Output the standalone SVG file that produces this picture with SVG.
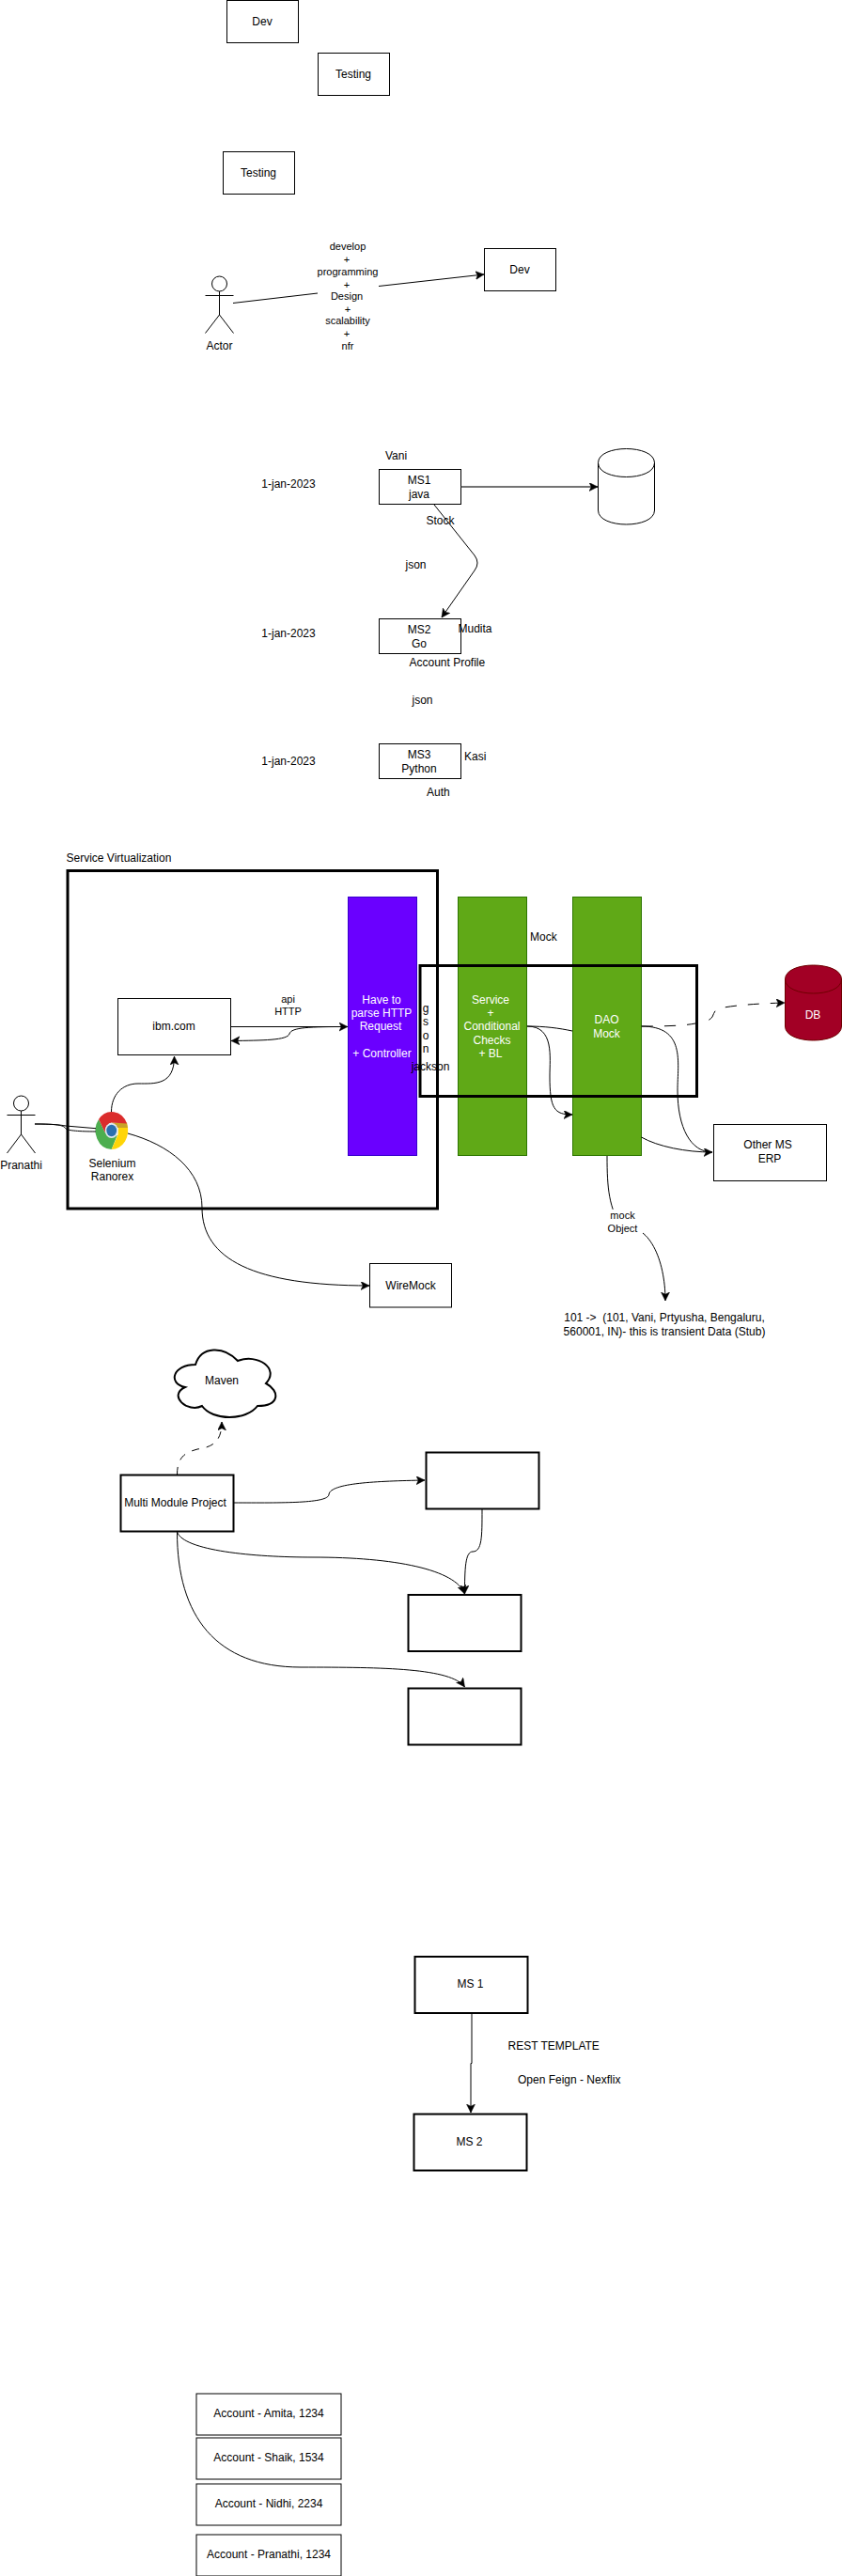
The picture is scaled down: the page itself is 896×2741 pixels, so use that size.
<svg xmlns="http://www.w3.org/2000/svg" width="896" height="2741" viewBox="0 0 896 2741">
<style>
text{font-family:"Liberation Sans",Arial,sans-serif;font-size:12px;fill:#000;text-anchor:middle;white-space:pre}
.l{text-anchor:start}
.s{font-size:11px}
.w{fill:#fff}
.b{fill:#fff;stroke:#000;stroke-width:1}
.b2{fill:#fff;stroke:#000;stroke-width:2}
.b1{fill:none;stroke:#000;stroke-width:3}
.c{fill:none;stroke:#000;stroke-width:1}
</style>
<defs>
<marker id="a" markerUnits="userSpaceOnUse" markerWidth="12" markerHeight="10" refX="9" refY="4.5" orient="auto"><path d="M0 0L9 4.5L0 9L2.2 4.5Z" fill="#000" stroke="#000" stroke-width=".5"/></marker>
</defs>
<rect width="896" height="2741" fill="#fff"/>
<g id="dev1"><rect class="b" x="241.5" y="0.5" width="76" height="45"/><text x="279" y="27">Dev</text></g>
<g id="testing1"><rect class="b" x="338.5" y="56.5" width="76" height="45"/><text x="376" y="83">Testing</text></g>
<g id="testing2"><rect class="b" x="237.5" y="161.5" width="76" height="45"/><text x="275" y="188">Testing</text></g>
<g id="dev2"><rect class="b" x="515.5" y="264.5" width="76" height="45"/><text x="553" y="291">Dev</text></g>
<g id="actor"><circle class="c" cx="233.5" cy="302" r="8"/><path class="c" d="M233.5 310V335M218.5 314.5H248.5M233.5 335L218.5 354.5M233.5 335L248.5 354.5"/><text x="233.5" y="372">Actor</text></g>
<g id="mslabel"><text class="s" x="370" y="266">develop</text><text class="s" x="369" y="280">+</text><text class="s" x="370" y="293">programming</text><text class="s" x="369" y="307">+</text><text class="s" x="369" y="319">Design</text><text class="s" x="370" y="333">+</text><text class="s" x="370" y="345">scalability</text><text class="s" x="369" y="359">+</text><text class="s" x="370" y="372">nfr</text></g>

<g id="ms1"><rect class="b" x="403.5" y="499.5" width="87" height="37"/><text x="446" y="515">MS1</text><text x="446" y="530">java</text></g>
<g id="store1"><path class="b" d="M636.5 492.5C636.5 472.5 696.5 472.5 696.5 492.5V543C696.5 563 636.5 563 636.5 543Z"/><path class="c" d="M636.5 492.5C636.5 512.5 696.5 512.5 696.5 492.5"/></g>
<g id="ms2"><rect class="b" x="403.5" y="658.5" width="87" height="37"/><text x="446" y="674">MS2</text><text x="446" y="689">Go</text></g>
<g id="ms3"><rect class="b" x="403.5" y="791.5" width="87" height="37"/><text x="446" y="807">MS3</text><text x="446" y="822">Python</text></g>
<g id="mslabels">
<text x="307" y="519">1-jan-2023</text><text x="307" y="678">1-jan-2023</text><text x="307" y="814">1-jan-2023</text>
<text class="l" x="410" y="489">Vani</text><text class="l" x="453.5" y="558">Stock</text><text class="l" x="431.5" y="605">json</text>
<text class="l" x="487.5" y="673">Mudita</text><text class="l" x="435.5" y="709">Account Profile</text><text class="l" x="438.5" y="749">json</text>
<text class="l" x="494" y="809">Kasi</text><text class="l" x="454" y="847">Auth</text>
</g>

<g id="controller"><rect x="370.5" y="954.5" width="73" height="275" fill="#6a00ff" stroke="#3700cc"/><text class="w" x="406" y="1068">Have to</text><text class="w" x="406" y="1082">parse HTTP</text><text class="w" x="405" y="1096">Request</text><text class="w" x="406.5" y="1125">+ Controller</text></g>
<g id="service"><rect x="487.5" y="954.5" width="73" height="275" fill="#60a917" stroke="#2d7600"/><text class="w" x="522" y="1068">Service</text><text class="w" x="522" y="1082">+</text><text class="w" x="523.5" y="1096">Conditional</text><text class="w" x="523.5" y="1111">Checks</text><text class="w" x="522" y="1125">+ BL</text></g>
<g id="dao"><rect x="609.5" y="954.5" width="73" height="275" fill="#60a917" stroke="#2d7600"/><text class="w" x="645.5" y="1089">DAO</text><text class="w" x="645.5" y="1104">Mock</text></g>
<g id="frames"><rect class="b1" x="72" y="926.5" width="393.5" height="359.5"/><rect class="b1" x="447" y="1027.5" width="294.5" height="139"/></g>
<g id="ibm"><rect class="b" x="125.5" y="1062.5" width="120" height="60"/><text x="185" y="1096">ibm.com</text></g>
<g id="wiremock"><rect class="b" x="393.5" y="1344.5" width="87" height="46.5"/><text x="437" y="1372">WireMock</text></g>
<g id="other"><rect class="b" x="759.5" y="1196.5" width="120" height="60"/><text x="817" y="1222">Other MS</text><text x="819" y="1237">ERP</text></g>
<g id="db"><path d="M835.5 1042C835.5 1022 895.5 1022 895.5 1042V1092C895.5 1112 835.5 1112 835.5 1092Z" fill="#a20025" stroke="#6f0000"/><path d="M835.5 1042C835.5 1062 895.5 1062 895.5 1042" fill="none" stroke="#6f0000"/><text class="w" x="865" y="1084">DB</text></g>
<g id="pranathi"><circle class="c" cx="22.5" cy="1174" r="8"/><path class="c" d="M22.5 1182V1207M7.5 1186.5H37.5M22.5 1207L7.5 1227M22.5 1207L37.5 1227"/><text x="22.5" y="1244">Pranathi</text></g>
<g id="chrome" transform="translate(118.7 1203) scale(.87 1)">
<path fill="#4cae4f" d="M-15.7-12A20 20 0 0 0 0 20L7 5L-8 2Z"/>
<path fill="#ffd507" d="M18.8-7A20 20 0 0 1 0 20L8 4L8-8Z"/>
<path fill="#c9a227" d="M0-8.500H18.800L19.800-3H6Z"/>
<path fill="#db2c2c" d="M-15.700-12A20 20 0 0 1 18.800-7.500L0-8.500Q-6-8-8 2Z"/>
<circle r="8" fill="#dfe6ee"/><circle r="6.200" fill="#2a6fae"/></g>
<g id="chromelabel"><text x="119.5" y="1242">Selenium</text><text x="119.5" y="1256">Ranorex</text></g>

<g id="connectors">
<path class="c" d="M248 322.5L338 312"/><path class="c" marker-end="url(#a)" d="M403 304.5L515 292"/>
<path fill="none" stroke="#444" stroke-width="1.5" marker-end="url(#a)" d="M490.5 518H636"/>
<path class="c" marker-end="url(#a)" d="M462 537L505 591Q511 599 505 607L470 657"/>
<path class="c" d="M118.5 1183C118.5 1165 130 1153 147 1153C165 1153 185.5 1155 185.5 1124" marker-end="url(#a)"/>
<path class="c" d="M245.5 1092.5H370" marker-end="url(#a)"/>
<path class="c" d="M370 1092.5C330 1092.5 310 1093 308 1100C306 1107 280 1107 246 1107.5" marker-end="url(#a)"/>
<path class="c" d="M136 1206C180 1218 215 1245 215 1285C215 1340 270 1368 393 1368" marker-end="url(#a)"/>
<path class="c" d="M37 1196C55 1196 65 1197 70 1198L102 1200.7"/>
<path class="c" d="M37 1196C60 1196 68 1197 70 1201C72 1203 85 1204 102 1204"/>
<path class="c" d="M561 1092C580 1092 595 1094 609 1097"/>
<path class="c" d="M561 1092C590 1092 585 1125 585 1145C585 1180 590 1186 609 1186" marker-end="url(#a)"/>
<path class="c" stroke-dasharray="12 12" d="M683 1092C700 1092 725 1092 740 1089C750 1088 755 1086 758 1082C760 1078 760 1075 765 1073C780 1070 800 1068 835 1067" marker-end="url(#a)"/>
<path class="c" d="M682.5 1092C730 1092 721 1130 721 1160C721 1200 735 1226 758 1226" marker-end="url(#a)"/>
<path class="c" d="M682.5 1210C700 1220 730 1226 758 1226"/>
<path class="c" d="M646 1230C646 1265 648 1285 662 1307C690 1300 708 1340 708 1384" marker-end="url(#a)"/>
<path class="c" stroke-dasharray="8 8" d="M188.5 1569C188.5 1548 200 1545 210 1542C225 1540 236 1535 236 1513" marker-end="url(#a)"/>
<path class="c" d="M248.5 1599C300 1599 350 1600 350 1590C352 1578 400 1576 452 1575" marker-end="url(#a)"/>
<path class="c" d="M513 1606C513 1635 513 1651 503 1651C495 1651 494.5 1670 494.5 1696" marker-end="url(#a)"/>
<path class="c" d="M188.5 1630C195 1650 270 1657 333 1657C420 1657 485 1670 494.5 1696" marker-end="url(#a)"/>
<path class="c" d="M188.5 1630C188.5 1720 230 1774 320 1774C410 1774 480 1775 494.5 1795" marker-end="url(#a)"/>
<path class="c" d="M502 2143V2195.5H501V2248" marker-end="url(#a)"/>
</g>
<g id="labels">
<text class="l" x="70.5" y="917">Service Virtualization</text>
<text class="s" x="306.5" y="1066.5">api</text><text class="s" x="306.5" y="1080">HTTP</text>
<text x="453" y="1077">g</text><text x="453" y="1091">s</text><text x="453" y="1106">o</text><text x="453" y="1120">n</text><text x="458" y="1139">jackson</text>
<text class="l" x="564" y="1001">Mock</text>
<rect x="644" y="1287" width="40" height="28" fill="#fff"/>
<text class="s" x="662.5" y="1297">mock</text><text class="s" x="662.5" y="1311">Object</text>
<text x="707" y="1406">101 -&gt;  (101, Vani, Prtyusha, Bengaluru,</text><text x="707" y="1421">560001, IN)- this is transient Data (Stub)</text>
</g>

<g id="maven"><path class="b2" d="M208 1452C184 1452 178 1472 197 1476C178 1485 200 1504 215 1496C226 1512 262 1512 274 1496C298 1496 298 1480 283 1472C298 1456 274 1440 253 1448C238 1432 214 1432 208 1452Z"/><text x="236" y="1473">Maven</text></g>
<g id="multi"><rect class="b2" x="128.5" y="1569.5" width="120" height="60"/><text x="186.5" y="1603">Multi Module Project</text></g>
<g id="mod1"><rect class="b2" x="453.5" y="1545.5" width="120" height="60"/></g>
<g id="mod2"><rect class="b2" x="434.5" y="1697" width="120" height="60"/></g>
<g id="mod3"><rect class="b2" x="434.5" y="1796.5" width="120" height="60"/></g>

<g id="ms1b"><rect class="b2" x="441.5" y="2082" width="120" height="60"/><text x="500.5" y="2115">MS 1</text></g>
<g id="ms2b"><rect class="b2" x="440.5" y="2249.5" width="120" height="60"/><text x="499.5" y="2283">MS 2</text></g>
<text class="l" x="540.5" y="2181">REST TEMPLATE</text>
<text class="l" x="551" y="2217">Open Feign - Nexflix</text>
<g id="acc1"><rect class="b" x="209" y="2547" width="154" height="44"/><text x="286" y="2572">Account - Amita, 1234</text></g>
<g id="acc2"><rect class="b" x="209" y="2594" width="154" height="44"/><text x="286" y="2619">Account - Shaik, 1534</text></g>
<g id="acc3"><rect class="b" x="209" y="2643" width="154" height="44"/><text x="286" y="2668">Account - Nidhi, 2234</text></g>
<g id="acc4"><rect class="b" x="209" y="2697" width="154" height="44"/><text x="286" y="2722">Account - Pranathi, 1234</text></g>
</svg>
